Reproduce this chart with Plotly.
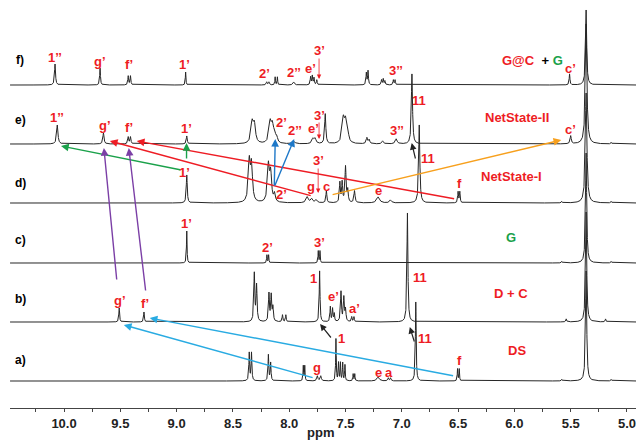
import numpy as np
import plotly.graph_objects as go

# ---------------- data (peak lists) ----------------
# chemical shift (ppm), intensity (arbitrary, px-scaled), half width (ppm)
a_ppm = [8.355, 8.335, 8.185, 8.165, 7.875, 7.862, 7.75, 7.72, 7.585, 7.562, 7.545, 7.525, 7.505,
         7.432, 7.418, 7.21, 7.12, 7.10, 6.876, 6.505, 6.49, 5.58, 5.363, 5.14]
a_int = [28, 28, 26, 18, 15, 15, 5, 5, 42, 18, 18, 18, 16, 7, 7, 4, 3, 3, 79, 12, 12, 1.5, 110, 1.5]
a_hw = [.004, .004, .004, .004, .003, .003, .006, .006, .003, .003, .003, .003, .003,
        .003, .003, .012, .005, .005, .004, .003, .003, .004, .006, .004]

b_ppm = [9.51, 9.29, 8.31, 8.29, 8.18, 8.16, 8.145, 8.06, 8.03, 7.73, 7.635, 7.615, 7.60,
         7.54, 7.515, 7.50, 7.445, 7.425, 6.95, 5.54, 5.363, 5.19]
b_int = [14, 10, 48, 36, 28, 26, 14, 7, 7, 51, 15, 13, 8, 30, 24, 12, 5, 5, 109, 3, 110, 3]
b_hw = [.004, .004, .005, .005, .005, .005, .005, .004, .004, .004, .004, .004, .004,
        .005, .005, .005, .004, .004, .005, .004, .006, .004]

c_ppm = [8.91, 8.198, 8.183, 7.742, 7.727, 5.58, 5.363, 5.14]
c_int = [32, 8, 8, 12, 12, 1.5, 110, 1.5]
c_hw = [.003, .003, .003, .003, .003, .004, .006, .004]

d_ppm = [8.91, 8.355, 8.335, 8.185, 8.165, 8.13, 7.84, 7.80, 7.76, 7.67, 7.55, 7.53, 7.50,
         7.48, 7.42, 7.21, 7.10, 6.845, 6.50, 6.485, 5.58, 5.363, 5.14]
d_int = [28, 40, 36, 36, 28, 8, 6, 4, 3, 12, 20, 20, 36, 12, 12, 6, 3, 78, 11, 11, 1.5, 110, 1.5]
d_hw = [.005, .01, .01, .01, .01, .008, .012, .01, .01, .005, .005, .005, .006,
        .005, .006, .015, .01, .006, .004, .004, .004, .008, .004]

e_ppm = [10.06, 9.65, 9.43, 9.41, 8.91, 8.33, 8.31, 8.17, 8.15, 8.13, 8.11, 7.96, 7.79, 7.77,
         7.68, 7.52, 7.50, 7.48, 7.31, 7.29, 7.17, 7.05, 6.91, 5.50, 5.363, 5.14]
e_int = [19, 11, 7, 7, 8, 20, 18, 20, 16, 9, 5, 3, 5, 5, 30, 23, 20, 9, 6, 4, 3, 5, 70, 8, 120, 1.5]
e_hw = [.007, .006, .005, .005, .005, .012, .012, .012, .012, .01, .008, .012, .01, .01,
        .006, .012, .012, .01, .007, .007, .008, .01, .006, .006, .008, .004]

f_ppm = [10.08, 9.68, 9.43, 9.41, 8.92, 8.20, 8.18, 8.125, 8.105, 7.96, 7.81, 7.795, 7.78,
         7.755, 7.315, 7.30, 7.18, 7.165, 7.15, 7.075, 7.06, 5.51, 5.363]
f_int = [21, 17, 9, 9, 13, 3, 3, 8, 8, 3, 8, 9, 7, 5, 12, 14, 5, 6, 4, 5, 5, 11, 75]
f_hw = [.005, .004, .004, .004, .003, .005, .005, .003, .003, .008, .004, .004, .004,
        .004, .004, .004, .004, .004, .004, .004, .004, .004, .006]

spectra_names = ["a)", "b)", "c)", "d)", "e)", "f)"]
spectra = [(a_ppm, a_int, a_hw), (b_ppm, b_int, b_hw), (c_ppm, c_int, c_hw),
           (d_ppm, d_int, d_hw), (e_ppm, e_int, e_hw), (f_ppm, f_int, f_hw)]

x_ticks = [10.0, 9.5, 9.0, 8.5, 8.0, 7.5, 7.0, 6.5, 6.0, 5.5, 5.0]

# ---------------- layout ----------------
offsets = [27, 86, 145, 205, 264, 323]   # baseline of each stacked trace
X_RANGE = [10.48, 4.92]
grid = np.arange(4.92, 10.48, 0.0005)

fig = go.Figure()
for (pp, ii, ww), off in zip(spectra, offsets):
    y = np.full_like(grid, float(off))
    for p0, h, w in zip(pp, ii, ww):
        y += h * w * w / ((grid - p0) ** 2 + w * w)
    fig.add_trace(go.Scatter(x=grid, y=y, mode="lines",
                             line=dict(color="#262626", width=1), hoverinfo="skip",
                             showlegend=False))

RED = "#ee1c24"
GREEN = "#1aa14a"
FONT = "Arial, Liberation Sans, sans-serif"

labels = [
    # f
    ("1’’", 10.08, 351, RED), ("g’", 9.68, 347, RED), ("f’", 9.42, 344, RED), ("1’", 8.93, 344, RED),
    ("2’", 8.22, 335, RED), ("2’’", 7.96, 336, RED), ("e’", 7.81, 340, RED), ("3’", 7.73, 358, RED),
    ("3’’", 7.05, 338, RED), ("c’", 5.50, 340, RED),
    # e
    ("1’’", 10.06, 291, RED), ("g’", 9.64, 283, RED), ("f’", 9.42, 281, RED), ("1’", 8.91, 280, RED),
    ("2’", 8.07, 286, RED), ("2’’", 7.95, 278, RED), ("e’", 7.78, 280, RED), ("3’", 7.73, 293, RED),
    ("3’’", 7.04, 278, RED), ("11", 6.85, 308, RED), ("NetState-II", 5.98, 291, RED), ("c’", 5.50, 279, RED),
    # d
    ("1’", 8.93, 236, RED), ("2’", 8.07, 214, RED), ("g", 7.81, 222, RED), ("3’", 7.74, 248, RED),
    ("c", 7.67, 222, RED), ("e", 7.21, 218, RED), ("f", 6.49, 225, RED), ("11", 6.77, 250, RED),
    ("NetState-I", 6.03, 232, RED),
    # c
    ("1’", 8.91, 185, RED), ("2’", 8.19, 161, RED), ("3’", 7.73, 166, RED), ("G", 6.03, 171, GREEN),
    # b
    ("g’", 9.50, 108, RED), ("f’", 9.28, 105, RED), ("1", 7.78, 130, RED), ("e’", 7.61, 112, RED),
    ("a’", 7.42, 100, RED), ("11", 6.84, 131, RED), ("D + C", 6.03, 115, RED),
    # a
    ("1", 7.54, 70, RED), ("g", 7.75, 41, RED), ("e", 7.21, 36, RED), ("a", 7.11, 36, RED),
    ("11", 6.79, 70, RED), ("f", 6.49, 48, RED), ("DS", 5.98, 58, RED),
]

annotations = []
for t, x, y, c in labels:
    annotations.append(dict(x=x, y=y, xref="x", yref="y", text=f"<b>{t}</b>", showarrow=False,
                            font=dict(family=FONT, size=13, color=c)))

annotations.append(dict(x=5.84, y=348, xref="x", yref="y", showarrow=False,
                        text=f"<b><span style='color:{RED}'>G@C</span>  "
                             f"<span style='color:black'>+</span> "
                             f"<span style='color:{GREEN}'>G</span></b>",
                        font=dict(family=FONT, size=13)))

name_y = [48, 109, 168, 225, 288, 348]
for n, yy in zip(spectra_names, name_y):
    annotations.append(dict(x=10.39, y=yy, xref="x", yref="y", text=f"<b>{n}</b>", showarrow=False,
                            font=dict(family=FONT, size=12, color="black")))

# axis title (placed in paper coordinates below the axis)
annotations.append(dict(x=0.496, y=-24 / 408, xref="paper", yref="paper", text="<b>ppm</b>",
                        xanchor="center", yanchor="middle",
                        showarrow=False, font=dict(family=FONT, size=13, color="#222")))

arrows = [
    # (head_x, head_y, tail_x, tail_y, color, width)
    (6.912, 265, 6.876, 248, "#222222", 1.2),
    (7.726, 84, 7.619, 69, "#222222", 1.2),
    (6.929, 81, 6.885, 65, "#222222", 1.2),
    (7.735, 329, 7.735, 351, RED, 0.8),
    (7.735, 269, 7.735, 287, RED, 0.8),
    (7.743, 215, 7.743, 241, RED, 0.8),
    (9.593, 267, 7.796, 212, RED, 1.4),
    (9.354, 267, 6.522, 209, RED, 1.4),
    (10.027, 262, 8.956, 238, GREEN, 1.4),
    (8.912, 265, 8.912, 248, GREEN, 1.4),
    (8.124, 269, 8.133, 221, "#1e78c8", 1.4),
    (7.956, 269, 8.133, 221, "#1e78c8", 1.4),
    (5.584, 268, 7.628, 213, "#f7a01d", 1.4),
    (9.646, 260, 9.531, 127, "#7b3fa6", 1.4),
    (9.425, 260, 9.274, 116, "#7b3fa6", 1.4),
    (9.469, 83, 7.779, 30, "#29abe2", 1.4),
    (9.239, 90, 6.531, 32, "#29abe2", 1.4),
]
for hx, hy, tx, ty, c, w in arrows:
    annotations.append(dict(x=hx, y=hy, ax=tx, ay=ty, xref="x", yref="y", axref="x", ayref="y",
                            text="", showarrow=True, arrowhead=2, arrowsize=1.1, arrowwidth=w,
                            arrowcolor=c, standoff=0, startstandoff=0))

fig.update_layout(
    width=636, height=443,
    margin=dict(l=10, r=0, t=0, b=35, autoexpand=False),
    paper_bgcolor="white", plot_bgcolor="white",
    annotations=annotations,
    xaxis=dict(range=X_RANGE, tickvals=x_ticks, tickformat=".1f", showgrid=False, zeroline=False,
               automargin=False, ticklabeloverflow="allow",
               showline=True, linecolor="#444", linewidth=1.2, ticks="outside", ticklen=3,
               tickcolor="#444", minor=dict(dtick=0.25, ticks="outside", ticklen=3, tickcolor="#444"),
               tickfont=dict(family=FONT, size=13, color="#222", weight="bold")),
    yaxis=dict(range=[0, 408], visible=False, fixedrange=True, automargin=False),
)

fig.write_html("out.html", config={"displayModeBar": False},
               post_script="document.body.style.margin='0';document.body.style.overflow='hidden';")
